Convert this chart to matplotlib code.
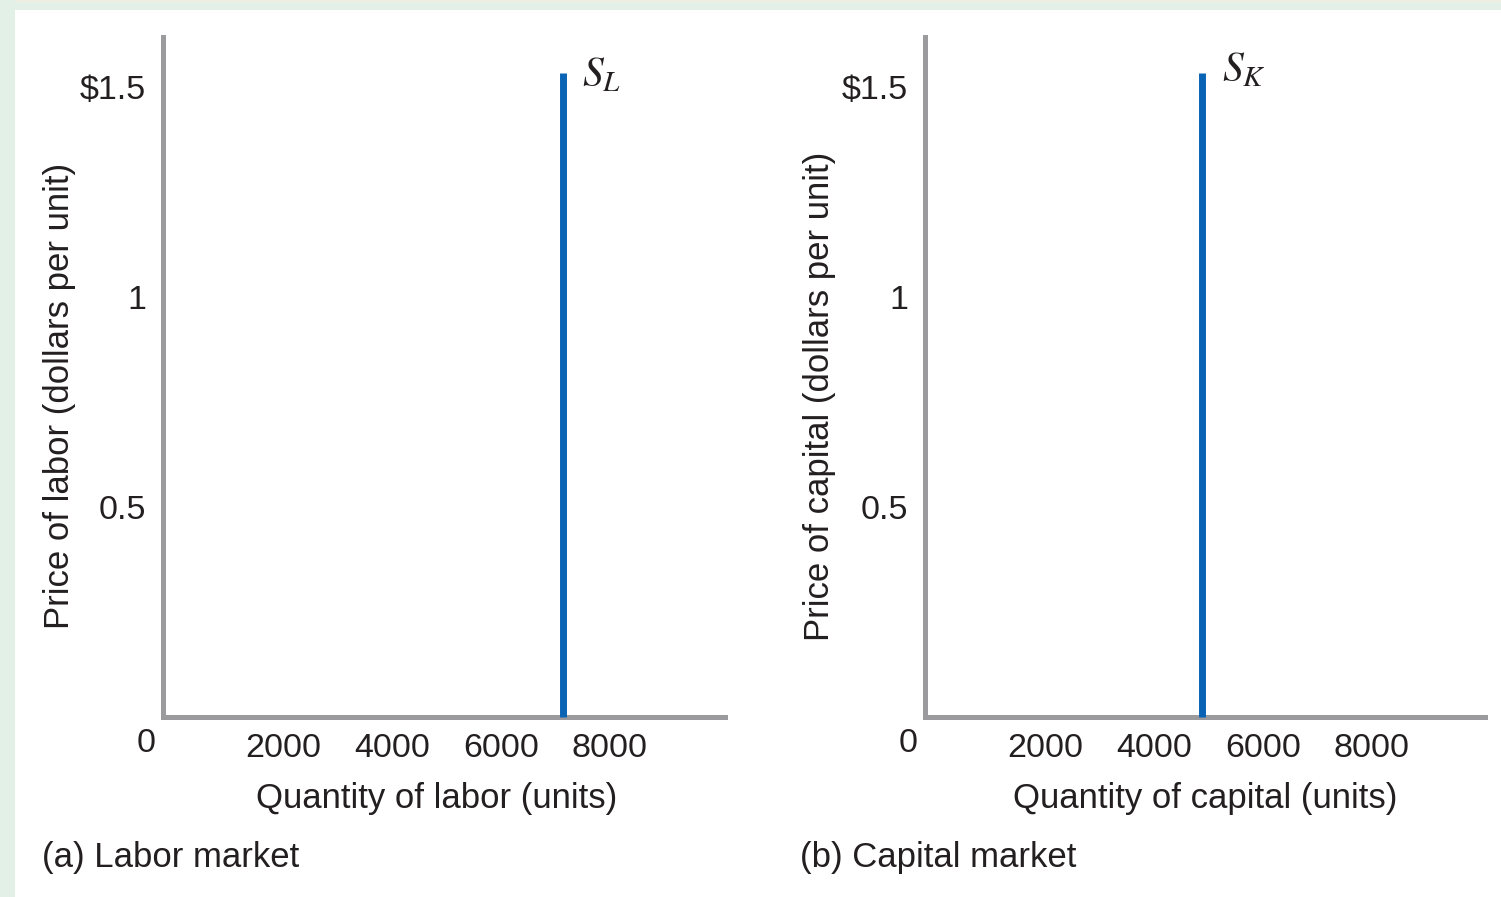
import matplotlib.pyplot as plt
from matplotlib.patches import Rectangle

plt.rcParams["font.family"] = ["Liberation Sans", "DejaVu Sans"]
plt.rcParams["mathtext.fontset"] = "stix"

# values
price_ticks = [0.5, 1, 1.5]
price_tick_labels = ["0.5", "1", r"\$1.5"]
qty_ticks = [2000, 4000, 6000, 8000]
qty_tick_labels = ["2000", "4000", "6000", "8000"]
supply_top = 1.535
labor_supply_qty = 7130
capital_supply_qty = 4880

panels = [
    {"qty": labor_supply_qty, "label": r"$S_L$", "xlim": (-221, 10120),
     "label_off": (14, -10),
     "xlabel": "Quantity of labor (units)",
     "ylabel": "Price of labor (dollars per unit)",
     "caption": "(a) Labor market"},
    {"qty": capital_supply_qty, "label": r"$S_K$", "xlim": (-221, 10083),
     "label_off": (14.5, -6.5),
     "xlabel": "Quantity of capital (units)",
     "ylabel": "Price of capital (dollars per unit)",
     "caption": "(b) Capital market"},
]

W, H = 1501, 897
TEXT = "#231f20"
SPINE = "#9b9b9d"
BLUE = "#0b63b5"

fig = plt.figure(figsize=(W / 100, H / 100), dpi=100, facecolor="white")

# light border strips around the panel
fig.patches.append(Rectangle((0, 1 - 10 / H), 1, 10 / H, transform=fig.transFigure,
                             facecolor="#e3f0e8", edgecolor="none", zorder=0))
fig.patches.append(Rectangle((0, 1 - 2 / H), 1, 2 / H, transform=fig.transFigure,
                             facecolor="#efece2", edgecolor="none", zorder=0))
fig.patches.append(Rectangle((0, 0), 15 / W, 1, transform=fig.transFigure,
                             facecolor="#e3f0e8", edgecolor="none", zorder=0))


def px(x, y):
    return x / W, 1 - y / H


boxes = [(163, 725), (925, 1485)]
label_x = [(60, 437, 42), (820, 1205, 800)]

for p, (x0, x1), (ylx, xlx, capx) in zip(panels, boxes, label_x):
    left, bottom = px(x0, 717)
    _, top = px(x1, 37)
    ax = fig.add_axes([left, bottom, (x1 - x0) / W, top - bottom])
    ax.set_facecolor("none")
    ax.set_xlim(*p["xlim"])
    ax.set_ylim(0, 1.62)

    for s in ("top", "right"):
        ax.spines[s].set_visible(False)
    for s in ("left", "bottom"):
        ax.spines[s].set_color(SPINE)
        ax.spines[s].set_linewidth(3.6)

    ax.set_yticks(price_ticks)
    ax.set_yticklabels(price_tick_labels)
    ax.set_xticks(qty_ticks)
    ax.set_xticklabels(qty_tick_labels)
    ax.tick_params(axis="both", length=0, labelsize=24.5, colors=TEXT)
    ax.tick_params(axis="y", pad=12)
    ax.tick_params(axis="x", pad=11.5)

    ax.annotate("0", xy=(0, 0), xycoords="axes fraction", xytext=(-12, -19),
                textcoords="offset points", ha="center", va="center",
                fontsize=24.5, color=TEXT)

    ax.plot([p["qty"], p["qty"]], [0, supply_top], color=BLUE, lw=5,
            solid_capstyle="butt", clip_on=False, zorder=3)
    ax.annotate(p["label"], xy=(p["qty"], supply_top), xytext=p["label_off"],
                textcoords="offset points", ha="left", va="baseline",
                fontsize=30, color=TEXT)

    fx, fy = px(ylx, 396)
    fig.text(fx, fy, p["ylabel"], rotation=90, ha="center", va="center",
             fontsize=25, color=TEXT)
    fx, fy = px(xlx, 798)
    fig.text(fx, fy, p["xlabel"], ha="center", va="center", fontsize=25, color=TEXT)
    fx, fy = px(capx, 857)
    fig.text(fx, fy, p["caption"], ha="left", va="center", fontsize=25, color=TEXT)

fig.savefig("out.png", dpi=100, facecolor="white")
